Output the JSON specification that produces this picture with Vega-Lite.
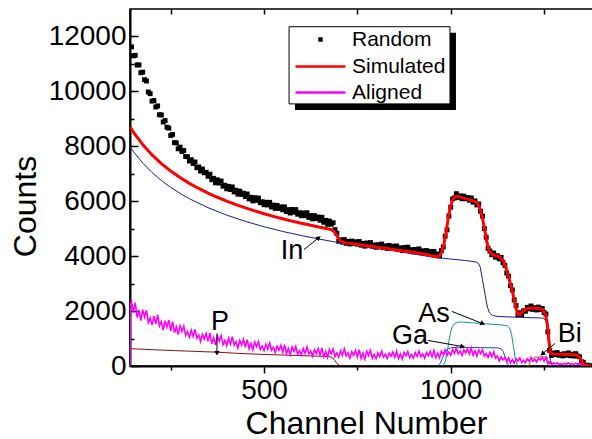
{
"$schema": "https://vega.github.io/schema/vega-lite/v6.json",
"width": 463, "height": 357,
"autosize": {"type": "none"},
"padding": {"left": 130, "top": 9, "right": 0, "bottom": 73},
"background": "white",
"config": {
  "font": "Liberation Sans",
  "view": {"stroke": "black", "strokeWidth": 1.5},
  "axis": {"labelFont": "Liberation Sans", "titleFont": "Liberation Sans", "labelColor": "black", "titleColor": "black", "tickColor": "black", "domainColor": "black", "grid": false, "titleFontWeight": "normal", "tickWidth": 1.5}
},
"datasets": {
"random": [
{"x":145,"y":11622},{"x":150,"y":11294},{"x":155,"y":11312},{"x":160,"y":10962},{"x":165,"y":10962},{"x":170,"y":10680},{"x":175,"y":10700},{"x":180,"y":10426},{"x":185,"y":10378},{"x":190,"y":9978},{"x":195,"y":9916},{"x":200,"y":9646},{"x":205,"y":9666},{"x":210,"y":9432},{"x":215,"y":9470},{"x":220,"y":9150},{"x":225,"y":9140},{"x":230,"y":8884},{"x":235,"y":8938},{"x":240,"y":8698},{"x":245,"y":8662},{"x":250,"y":8394},{"x":255,"y":8432},
{"x":260,"y":8134},{"x":265,"y":8124},{"x":270,"y":7910},{"x":275,"y":7970},{"x":280,"y":7812},{"x":285,"y":7846},{"x":290,"y":7626},{"x":295,"y":7622},{"x":300,"y":7462},{"x":305,"y":7512},{"x":310,"y":7374},{"x":315,"y":7430},{"x":320,"y":7220},{"x":325,"y":7250},{"x":330,"y":7098},{"x":335,"y":7176},{"x":340,"y":7036},{"x":345,"y":7054},{"x":350,"y":6908},{"x":355,"y":6984},{"x":360,"y":6784},{"x":365,"y":6834},{"x":370,"y":6670},{"x":375,"y":6780},{"x":380,"y":6662},{"x":385,"y":6736},{"x":390,"y":6546},{"x":395,"y":6582},{"x":400,"y":6452},{"x":405,"y":6542},{"x":410,"y":6424},{"x":415,"y":6520},{"x":420,"y":6340},{"x":425,"y":6400},{"x":430,"y":6258},{"x":435,"y":6366},{"x":440,"y":6246},{"x":445,"y":6294},{"x":450,"y":6168},{"x":455,"y":6264},{"x":460,"y":6084},{"x":465,"y":6144},{"x":470,"y":6010},{"x":475,"y":6130},{"x":480,"y":6032},{"x":485,"y":6116},{"x":490,"y":5946},{"x":495,"y":5982},{"x":500,"y":5872},{"x":505,"y":5962},{"x":510,"y":5864},{"x":515,"y":5960},{"x":520,"y":5790},{"x":525,"y":5860},{"x":530,"y":5738},{"x":535,"y":5846},{"x":540,"y":5736},{"x":545,"y":5794},{"x":550,"y":5688},{"x":555,"y":5794},{"x":560,"y":5624},{"x":565,"y":5694},{"x":570,"y":5570},{"x":575,"y":5700},{"x":580,"y":5602},{"x":585,"y":5696},{"x":590,"y":5526},{"x":595,"y":5582},{"x":600,"y":5472},{"x":605,"y":5572},{"x":610,"y":5474},{"x":615,"y":5580},{"x":620,"y":5410},{"x":625,"y":5480},{"x":630,"y":5358},{"x":635,"y":5476},{"x":640,"y":5366},{"x":645,"y":5424},{"x":650,"y":5308},{"x":655,"y":5414},{"x":660,"y":5234},{"x":665,"y":5304},{"x":670,"y":5160},{"x":675,"y":5280},{"x":680,"y":5162},{"x":685,"y":5216},{"x":690,"y":4966},{"x":695,"y":4832},{"x":700,"y":4542},
{"x":705,"y":4595},{"x":710,"y":4510},{"x":715,"y":4605},{"x":720,"y":4470},{"x":725,"y":4537},{"x":730,"y":4443},{"x":735,"y":4550},{"x":740,"y":4467},{"x":745,"y":4523},{"x":750,"y":4435},{"x":755,"y":4532},{"x":760,"y":4399},{"x":765,"y":4466},{"x":770,"y":4363},{"x":775,"y":4480},{"x":780,"y":4407},{"x":785,"y":4494},{"x":790,"y":4361},{"x":795,"y":4408},{"x":800,"y":4325},{"x":805,"y":4417},{"x":810,"y":4344},{"x":815,"y":4441},{"x":820,"y":4308},{"x":825,"y":4375},{"x":830,"y":4282},{"x":835,"y":4389},{"x":840,"y":4306},{"x":845,"y":4363},{"x":850,"y":4275},{"x":855,"y":4371},{"x":860,"y":4237},{"x":865,"y":4303},{"x":870,"y":4199},{"x":875,"y":4315},{"x":880,"y":4241},{"x":885,"y":4327},{"x":890,"y":4193},{"x":895,"y":4239},{"x":900,"y":4155},{"x":905,"y":4245},{"x":910,"y":4170},{"x":915,"y":4265},{"x":920,"y":4130},{"x":925,"y":4195},{"x":930,"y":4100},{"x":935,"y":4205},{"x":940,"y":4120},{"x":945,"y":4175},{"x":950,"y":4085},{"x":955,"y":4170},{"x":960,"y":4025},{"x":965,"y":4080},{"x":970,"y":4005},{"x":975,"y":4200},{"x":980,"y":4335},{"x":985,"y":4730},{"x":990,"y":4955},{"x":995,"y":5460},{"x":1000,"y":5785},{"x":1005,"y":6085},{"x":1010,"y":6120},{"x":1015,"y":6275},{"x":1020,"y":6140},{"x":1025,"y":6195},{"x":1030,"y":6090},{"x":1035,"y":6185},{"x":1040,"y":6090},{"x":1045,"y":6135},{"x":1050,"y":6035},{"x":1055,"y":6120},{"x":1060,"y":5965},{"x":1065,"y":6010},{"x":1070,"y":5865},{"x":1075,"y":5900},{"x":1080,"y":5635},{"x":1085,"y":5460},{"x":1090,"y":5005},{"x":1095,"y":4690},{"x":1100,"y":4285},{"x":1105,"y":4185},{"x":1110,"y":4050},{"x":1115,"y":4115},{"x":1120,"y":3960},{"x":1125,"y":4015},{"x":1130,"y":3900},{"x":1135,"y":3955},{"x":1140,"y":3760},{"x":1145,"y":3665},{"x":1150,"y":3385},{"x":1155,"y":3270},{"x":1160,"y":2925},{"x":1165,"y":2770},{"x":1170,"y":2405},{"x":1175,"y":2200},{"x":1180,"y":1865},{"x":1185,"y":1940},{"x":1190,"y":1875},{"x":1195,"y":2010},{"x":1200,"y":1995},{"x":1205,"y":2135},{"x":1210,"y":2080},{"x":1215,"y":2185},{"x":1220,"y":2060},{"x":1225,"y":2125},{"x":1230,"y":2040},{"x":1235,"y":2145},{"x":1240,"y":2060},{"x":1245,"y":2095},{"x":1250,"y":1945},{"x":1255,"y":1890},{"x":1260,"y":1245},{"x":1265,"y":570},
{"x":1270,"y":380},{"x":1275,"y":470},{"x":1280,"y":418},{"x":1285,"y":489},{"x":1290,"y":389},{"x":1295,"y":428},{"x":1300,"y":368},{"x":1305,"y":448},{"x":1310,"y":391},{"x":1315,"y":475},{"x":1320,"y":375},{"x":1325,"y":430},{"x":1330,"y":362},{"x":1335,"y":449},{"x":1340,"y":364},{"x":1345,"y":336},{"x":1350,"y":152},{"x":1355,"y":136},{"x":1360,"y":10},{"x":1365,"y":31},{"x":1370,"y":5},{"x":1375,"y":12}
],
"aligned": [
{"x":141,"y":0},{"x":142,"y":2250},
{"x":145,"y":2358},{"x":150,"y":1944},{"x":155,"y":2310},{"x":160,"y":1766},{"x":165,"y":2033},{"x":170,"y":1650},{"x":175,"y":2052},{"x":180,"y":1778},{"x":185,"y":2029},{"x":190,"y":1578},{"x":195,"y":1751},{"x":200,"y":1487},{"x":205,"y":1816},{"x":210,"y":1531},{"x":215,"y":1870},{"x":220,"y":1460},{"x":225,"y":1617},{"x":230,"y":1311},{"x":235,"y":1650},{"x":240,"y":1417},{"x":245,"y":1673},{"x":250,"y":1284},{"x":255,"y":1615},{"x":260,"y":1215},{"x":265,"y":1430},{"x":270,"y":1145},{"x":275,"y":1465},{"x":280,"y":1260},{"x":285,"y":1455},{"x":290,"y":1115},{"x":295,"y":1250},{"x":300,"y":1045},{"x":305,"y":1305},{"x":310,"y":1080},{"x":315,"y":1335},{"x":320,"y":1010},{"x":325,"y":1130},{"x":330,"y":895},{"x":335,"y":1155},{"x":340,"y":980},{"x":345,"y":1185},{"x":350,"y":895},{"x":355,"y":1200},{"x":360,"y":805},{"x":365,"y":1035},{"x":370,"y":760},{"x":375,"y":1090},{"x":380,"y":900},{"x":385,"y":1110},{"x":390,"y":780},{"x":395,"y":930},{"x":400,"y":740},{"x":405,"y":1010},{"x":410,"y":800},{"x":415,"y":1070},{"x":420,"y":760},{"x":425,"y":890},{"x":430,"y":660},{"x":435,"y":930},{"x":440,"y":760},{"x":445,"y":970},{"x":450,"y":680},{"x":455,"y":960},{"x":460,"y":627},{"x":465,"y":821},{"x":470,"y":590},{"x":475,"y":869},{"x":480,"y":706},{"x":485,"y":883},{"x":490,"y":601},{"x":495,"y":727},{"x":500,"y":564},{"x":505,"y":792},{"x":510,"y":612},{"x":515,"y":840},{"x":520,"y":575},{"x":525,"y":684},{"x":530,"y":490},{"x":535,"y":720},{"x":540,"y":576},{"x":545,"y":754},{"x":550,"y":508},{"x":555,"y":773},{"x":560,"y":443},{"x":565,"y":641},{"x":570,"y":412},{"x":575,"y":693},{"x":580,"y":532},{"x":585,"y":711},{"x":590,"y":431},{"x":595,"y":562},{"x":600,"y":404},{"x":605,"y":637},{"x":610,"y":462},{"x":615,"y":695},{"x":620,"y":435},{"x":625,"y":549},{"x":630,"y":357},{"x":635,"y":590},{"x":640,"y":449},{"x":645,"y":633},{"x":650,"y":391},{"x":655,"y":660},{"x":660,"y":334},{"x":665,"y":534},{"x":670,"y":310},{"x":675,"y":596},{"x":680,"y":439},{"x":685,"y":623},{"x":690,"y":348},{"x":695,"y":480},{"x":700,"y":324},{"x":705,"y":559},{"x":710,"y":386},{"x":715,"y":621},{"x":720,"y":363},{"x":725,"y":479},{"x":730,"y":289},{"x":735,"y":524},{"x":740,"y":385},{"x":745,"y":569},{"x":750,"y":328},{"x":755,"y":597},{"x":760,"y":271},{"x":765,"y":472},{"x":770,"y":248},{"x":775,"y":534},{"x":780,"y":378},{"x":785,"y":562},{"x":790,"y":287},{"x":795,"y":420},{"x":800,"y":264},{"x":805,"y":484},{"x":810,"y":344},{"x":815,"y":540},{"x":820,"y":330},{"x":825,"y":428},{"x":830,"y":274},{"x":835,"y":470},{"x":840,"y":358},{"x":845,"y":512},{"x":850,"y":316},{"x":855,"y":540},{"x":860,"y":274},{"x":865,"y":442},{"x":870,"y":260},{"x":875,"y":498},{"x":880,"y":372},{"x":885,"y":526},{"x":890,"y":302},{"x":895,"y":414},{"x":900,"y":288},{"x":905,"y":486},{"x":910,"y":348},{"x":915,"y":546},{"x":920,"y":338},{"x":925,"y":438},{"x":930,"y":286},{"x":935,"y":484},{"x":940,"y":374},{"x":945,"y":530},{"x":950,"y":336},{"x":955,"y":565},{"x":960,"y":304},{"x":965,"y":477},{"x":970,"y":300},{"x":975,"y":543},{"x":980,"y":422},{"x":985,"y":591},{"x":990,"y":382},{"x":995,"y":509},{"x":1000,"y":393},{"x":1005,"y":599},{"x":1010,"y":459},{"x":1015,"y":655},{"x":1020,"y":445},{"x":1025,"y":543},{"x":1030,"y":389},{"x":1035,"y":585},{"x":1040,"y":473},{"x":1045,"y":627},{"x":1050,"y":431},{"x":1055,"y":655},{"x":1060,"y":389},{"x":1065,"y":547},{"x":1070,"y":355},{"x":1075,"y":583},{"x":1080,"y":447},{"x":1085,"y":591},{"x":1090,"y":357},{"x":1095,"y":454},{"x":1100,"y":313},{"x":1105,"y":494},{"x":1110,"y":339},{"x":1115,"y":515},{"x":1120,"y":285},{"x":1125,"y":363},{"x":1130,"y":184},{"x":1135,"y":330},{"x":1140,"y":225},{"x":1145,"y":310},{"x":1150,"y":155},{"x":1155,"y":300},{"x":1160,"y":110},{"x":1165,"y":230},{"x":1170,"y":100},{"x":1175,"y":270},{"x":1180,"y":180},{"x":1185,"y":290},{"x":1190,"y":130},{"x":1195,"y":210},{"x":1200,"y":120},{"x":1205,"y":265},{"x":1210,"y":170},{"x":1215,"y":315},{"x":1220,"y":170},{"x":1225,"y":248},{"x":1230,"y":145},{"x":1235,"y":290},{"x":1240,"y":215},{"x":1245,"y":325},{"x":1250,"y":180},{"x":1255,"y":320},{"x":1260,"y":80},{"x":1265,"y":150},{"x":1270,"y":55},{"x":1275,"y":108},{"x":1280,"y":72},{"x":1285,"y":116},{"x":1290,"y":52},{"x":1295,"y":84},{"x":1300,"y":48},{"x":1305,"y":104},{"x":1310,"y":64},{"x":1315,"y":120},{"x":1320,"y":60},{"x":1325,"y":88},{"x":1330,"y":44},{"x":1335,"y":100},{"x":1340,"y":63},{"x":1345,"y":97},{"x":1350,"y":26},{"x":1355,"y":75},{"x":1360,"y":2},{"x":1365,"y":27},{"x":1370,"y":0},{"x":1375,"y":15}
],
"sim": [
{"x":141,"y":8700},{"x":150,"y":8517},{"x":175,"y":8061},{"x":200,"y":7687},{"x":225,"y":7370},{"x":250,"y":7098},{"x":275,"y":6861},{"x":300,"y":6651},{"x":325,"y":6465},{"x":350,"y":6296},{"x":375,"y":6145},{"x":400,"y":6003},{"x":425,"y":5875},{"x":450,"y":5757},{"x":475,"y":5648},{"x":500,"y":5545},{"x":525,"y":5450},{"x":550,"y":5360},{"x":575,"y":5277},{"x":600,"y":5198},{"x":625,"y":5123},{"x":650,"y":5051},{"x":670,"y":4995},{"x":680,"y":4965},{"x":686,"y":4920},{"x":692,"y":4820},{"x":698,"y":4670},{"x":704,"y":4560},{"x":712,"y":4500},{"x":730,"y":4465},{"x":760,"y":4410},{"x":800,"y":4330},{"x":850,"y":4230},{"x":900,"y":4140},{"x":940,"y":4040},{"x":962,"y":3975},{"x":970,"y":4010},{"x":976,"y":4150},{"x":982,"y":4450},{"x":988,"y":4900},{"x":994,"y":5450},{"x":1000,"y":5850},{"x":1006,"y":6080},{"x":1012,"y":6170},{"x":1018,"y":6180},{"x":1030,"y":6130},{"x":1050,"y":6060},{"x":1065,"y":5990},{"x":1073,"y":5900},{"x":1079,"y":5700},{"x":1085,"y":5400},{"x":1091,"y":4950},{"x":1097,"y":4500},{"x":1103,"y":4200},{"x":1110,"y":4070},{"x":1120,"y":4020},{"x":1132,"y":3970},{"x":1140,"y":3850},{"x":1146,"y":3650},{"x":1152,"y":3380},{"x":1158,"y":3080},{"x":1164,"y":2780},{"x":1170,"y":2420},{"x":1175,"y":2100},{"x":1180,"y":1880},{"x":1185,"y":1870},{"x":1192,"y":1970},{"x":1200,"y":2060},{"x":1210,"y":2100},{"x":1225,"y":2105},{"x":1240,"y":2085},{"x":1248,"y":2020},{"x":1254,"y":1860},{"x":1259,"y":1500},{"x":1263,"y":900},{"x":1267,"y":480},{"x":1272,"y":435},{"x":1300,"y":425},{"x":1335,"y":410},{"x":1342,"y":360},{"x":1348,"y":240},{"x":1354,"y":100},{"x":1360,"y":30},{"x":1375,"y":10}
],
"inn": [
{"x":141,"y":7988},{"x":150,"y":7812},{"x":175,"y":7392},{"x":200,"y":7047},{"x":225,"y":6755},{"x":250,"y":6504},{"x":275,"y":6285},{"x":300,"y":6092},{"x":350,"y":5764},{"x":400,"y":5494},{"x":450,"y":5267},{"x":500,"y":5071},{"x":550,"y":4900},{"x":600,"y":4750},{"x":650,"y":4615},{"x":700,"y":4494},{"x":750,"y":4384},{"x":800,"y":4284},{"x":850,"y":4191},{"x":900,"y":4080},{"x":950,"y":3970},{"x":1000,"y":3895},{"x":1040,"y":3840},{"x":1068,"y":3790},{"x":1074,"y":3740},{"x":1079,"y":3600},{"x":1085,"y":3150},{"x":1092,"y":2600},{"x":1098,"y":2150},{"x":1104,"y":1930},{"x":1112,"y":1840},{"x":1125,"y":1805},{"x":1160,"y":1785},{"x":1200,"y":1765},{"x":1248,"y":1745},{"x":1255,"y":1650},{"x":1259,"y":1300},{"x":1263,"y":700},{"x":1267,"y":200},{"x":1272,"y":30},{"x":1280,"y":0}
],
"p": [
{"x":141,"y":630},{"x":200,"y":595},{"x":260,"y":560},{"x":320,"y":530},{"x":374,"y":504},{"x":430,"y":460},{"x":500,"y":420},{"x":588,"y":383},{"x":669,"y":347},{"x":678,"y":335},{"x":684,"y":290},{"x":690,"y":190},{"x":696,"y":80},{"x":702,"y":15},{"x":708,"y":0}
],
"as": [
{"x":978,"y":0},{"x":985,"y":150},{"x":990,"y":450},{"x":995,"y":900},{"x":1000,"y":1250},{"x":1005,"y":1450},{"x":1012,"y":1560},{"x":1020,"y":1600},{"x":1035,"y":1600},{"x":1060,"y":1570},{"x":1100,"y":1530},{"x":1140,"y":1490},{"x":1152,"y":1460},{"x":1158,"y":1380},{"x":1163,"y":1150},{"x":1168,"y":700},{"x":1173,"y":250},{"x":1178,"y":50},{"x":1183,"y":0}
],
"ga": [
{"x":965,"y":0},{"x":972,"y":100},{"x":978,"y":300},{"x":985,"y":500},{"x":992,"y":620},{"x":1000,"y":660},{"x":1020,"y":680},{"x":1080,"y":670},{"x":1125,"y":660},{"x":1135,"y":630},{"x":1141,"y":520},{"x":1146,"y":300},{"x":1151,"y":100},{"x":1156,"y":0}
],
"bi": [
{"x":1205,"y":0},{"x":1210,"y":60},{"x":1214,"y":150},{"x":1218,"y":260},{"x":1224,"y":320},{"x":1240,"y":330},{"x":1255,"y":330},{"x":1259,"y":300},{"x":1262,"y":150},{"x":1266,"y":0}
],
"labels": [
{"t":"In","x":575,"y":4180},{"t":"P","x":382,"y":1588},{"t":"As","x":955,"y":1880},{"t":"Ga","x":891,"y":1077},{"t":"Bi","x":1319,"y":1150}
],
"arrows": [
{"t":"In","x1":607,"y1":4237,"x2":645,"y2":4654},{"t":"P","x1":374,"y1":1186,"x2":374,"y2":493},{"t":"As","x1":1003,"y1":1989,"x2":1084,"y2":1551},{"t":"Ga","x1":939,"y1":931,"x2":1030,"y2":712},{"t":"Bi","x1":1279,"y1":821,"x2":1247,"y2":456}
],
"shadow": [
{"x":583,"x2":1014,"y":9326,"y2":12136}
],
"frame": [
{"x":567,"x2":998,"y":9545,"y2":12355}
]
},
"encoding": {
  "x": {"field": "x", "type": "quantitative", "scale": {"domain": [141, 1381], "nice": false, "zero": false}, "axis": null},
  "y": {"field": "y", "type": "quantitative", "scale": {"domain": [0, 13000], "nice": false, "zero": false}, "axis": null}
},
"layer": [
  {"data": {"name": "shadow"}, "mark": {"type": "rect", "color": "black"},
   "encoding": {"x2": {"field": "x2"}, "y2": {"field": "y2"}}},
  {"data": {"name": "frame"}, "mark": {"type": "rect", "fill": "white", "stroke": "black", "strokeWidth": 1},
   "encoding": {"x2": {"field": "x2"}, "y2": {"field": "y2"}}},
  {"data": {"name": "random"}, "mark": {"type": "point", "filled": true, "color": "black", "size": 24, "opacity": 1, "clip": true},
   "encoding": {
     "x": {"field": "x", "type": "quantitative", "scale": {"domain": [141, 1381], "nice": false, "zero": false},
           "axis": {"orient": "bottom", "values": [500, 1000], "format": "d", "tickSize": 7, "domainWidth": 2, "labelFontSize": 28, "labelPadding": 3, "labelFlush": false, "title": "Channel Number", "titleFontSize": 32, "titlePadding": 4, "titleX": 236}},
     "y": {"field": "y", "type": "quantitative", "scale": {"domain": [0, 13000], "nice": false, "zero": false},
           "axis": {"orient": "left", "values": [0, 2000, 4000, 6000, 8000, 10000, 12000], "format": "d", "tickSize": -8, "domainWidth": 2, "labelFontSize": 28, "labelPadding": 12, "labelFlush": false, "title": "Counts", "titleFontSize": 32, "titlePadding": 6, "titleY": 197}},
     "shape": {"datum": "Random", "type": "nominal",
       "scale": {"domain": ["Random"], "range": ["square"]},
       "legend": {"orient": "none", "legendX": 159, "legendY": 16, "title": null, "padding": 4,
         "labelFont": "Liberation Sans", "labelFontSize": 21, "labelColor": "black",
         "symbolSize": 20, "symbolFillColor": "black", "symbolStrokeWidth": 0, "symbolOpacity": 1,
         "symbolOffset": 17, "labelOffset": 21}}
   }},
  {"data": {"name": "inn"}, "mark": {"type": "line", "color": "#1a1a8c", "strokeWidth": 1, "clip": true}, "encoding": {}},
  {"data": {"name": "p"}, "mark": {"type": "line", "color": "#8b1010", "strokeWidth": 1, "clip": true}, "encoding": {}},
  {"data": {"name": "as"}, "mark": {"type": "line", "color": "#1a8f8f", "strokeWidth": 1, "clip": true}, "encoding": {}},
  {"data": {"name": "ga"}, "mark": {"type": "line", "color": "#1f3cff", "strokeWidth": 1, "clip": true}, "encoding": {}},
  {"data": {"name": "bi"}, "mark": {"type": "line", "color": "#a09a3a", "strokeWidth": 1.2, "clip": true}, "encoding": {}},
  {"data": {"name": "aligned"}, "mark": {"type": "line", "strokeWidth": 1.6, "clip": true},
   "encoding": {
     "x": {"field": "x", "type": "quantitative", "scale": {"domain": [141, 1381], "nice": false, "zero": false},
           "axis": {"orient": "top", "values": [250, 500, 750, 1000, 1250], "tickSize": -5, "labels": false, "domain": false, "title": null}},
     "color": {"datum": "Aligned", "type": "nominal"}
   }},
  {"data": {"name": "sim"}, "mark": {"type": "line", "strokeWidth": 3, "clip": true},
   "encoding": {
     "x": {"field": "x", "type": "quantitative", "scale": {"domain": [141, 1381], "nice": false, "zero": false},
           "axis": {"orient": "bottom", "values": [250, 750, 1250], "tickSize": 4, "labels": false, "domain": false, "title": null}},
     "y": {"field": "y", "type": "quantitative", "scale": {"domain": [0, 13000], "nice": false, "zero": false},
           "axis": {"orient": "left", "values": [1000, 3000, 5000, 7000, 9000, 11000], "tickSize": -4, "labels": false, "domain": false, "title": null}},
     "color": {"datum": "Simulated", "type": "nominal",
       "scale": {"domain": ["Simulated", "Aligned"], "range": ["#ff0000", "#ff00ff"]},
       "legend": {"orient": "none", "legendX": 159, "legendY": 43, "title": null, "padding": 4,
         "labelFont": "Liberation Sans", "labelFontSize": 21, "labelColor": "black", "rowPadding": 4,
         "symbolType": "M-5,0H5", "symbolSize": 100, "symbolStrokeWidth": 2.5, "symbolFillColor": "transparent", "symbolOpacity": 1,
         "symbolOffset": 17, "labelOffset": 21}}
   }},
  {"data": {"name": "labels"}, "mark": {"type": "text", "fontSize": 27, "font": "Liberation Sans", "color": "black", "align": "center", "baseline": "middle"},
   "encoding": {"text": {"field": "t"}}},
  {"data": {"name": "arrows"}, "mark": {"type": "rule", "color": "black", "strokeWidth": 1},
   "encoding": {"x": {"field": "x1", "type": "quantitative"}, "y": {"field": "y1", "type": "quantitative"}, "x2": {"field": "x2"}, "y2": {"field": "y2"}}},
  {"data": {"name": "arrows"}, "transform": [{"filter": "datum.t === 'In'"}], "mark": {"type": "point", "shape": "triangle", "angle": 52, "filled": true, "color": "black", "size": 30, "opacity": 1},
   "encoding": {"x": {"field": "x2", "type": "quantitative"}, "y": {"field": "y2", "type": "quantitative"}}},
  {"data": {"name": "arrows"}, "transform": [{"filter": "datum.t === 'P'"}], "mark": {"type": "point", "shape": "triangle", "angle": 180, "filled": true, "color": "black", "size": 30, "opacity": 1},
   "encoding": {"x": {"field": "x2", "type": "quantitative"}, "y": {"field": "y2", "type": "quantitative"}}},
  {"data": {"name": "arrows"}, "transform": [{"filter": "datum.t === 'As'"}], "mark": {"type": "point", "shape": "triangle", "angle": 112, "filled": true, "color": "black", "size": 30, "opacity": 1},
   "encoding": {"x": {"field": "x2", "type": "quantitative"}, "y": {"field": "y2", "type": "quantitative"}}},
  {"data": {"name": "arrows"}, "transform": [{"filter": "datum.t === 'Ga'"}], "mark": {"type": "point", "shape": "triangle", "angle": 100, "filled": true, "color": "black", "size": 30, "opacity": 1},
   "encoding": {"x": {"field": "x2", "type": "quantitative"}, "y": {"field": "y2", "type": "quantitative"}}},
  {"data": {"name": "arrows"}, "transform": [{"filter": "datum.t === 'Bi'"}], "mark": {"type": "point", "shape": "triangle", "angle": 230, "filled": true, "color": "black", "size": 30, "opacity": 1},
   "encoding": {"x": {"field": "x2", "type": "quantitative"}, "y": {"field": "y2", "type": "quantitative"}}}
],
"resolve": {"axis": {"x": "independent", "y": "independent"}}
}
